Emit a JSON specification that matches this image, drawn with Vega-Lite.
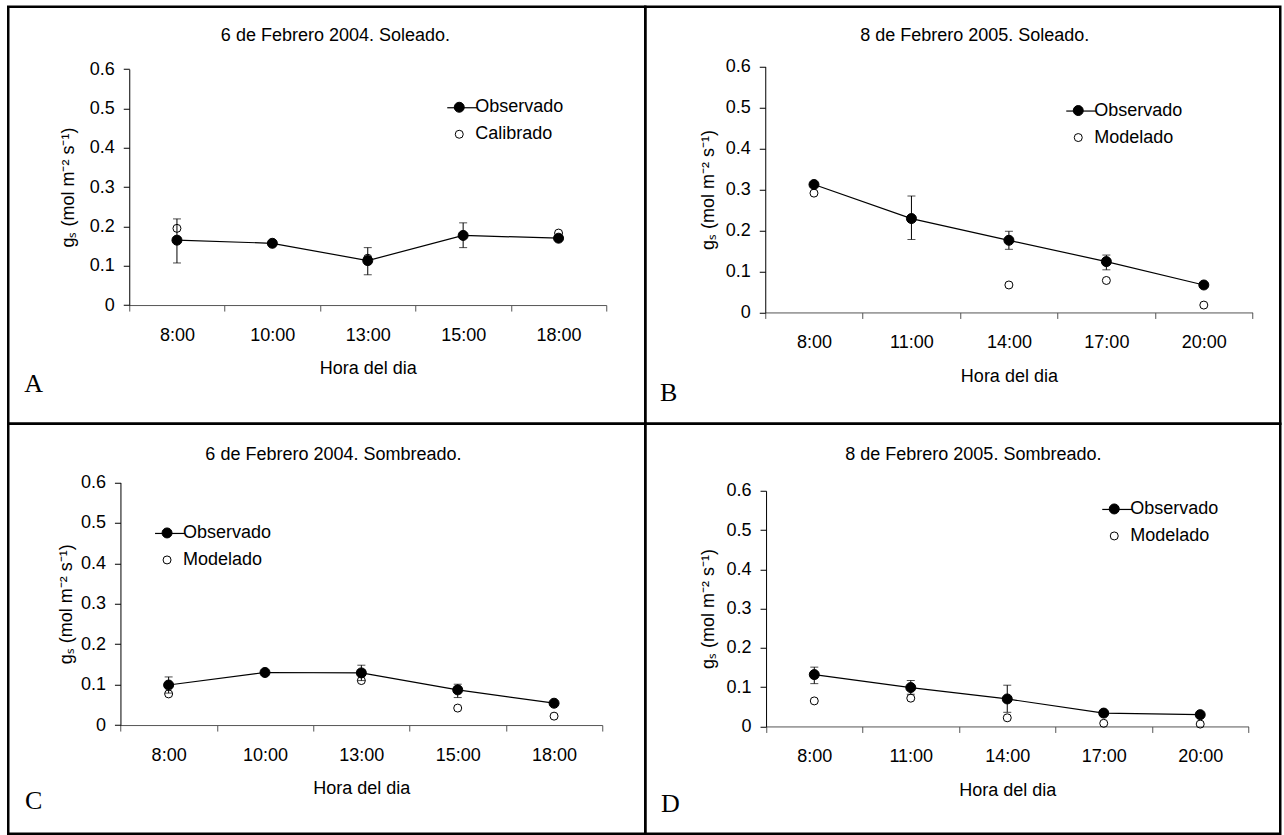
{
  "$schema": "https://vega.github.io/schema/vega-lite/v6.json",
  "background": "white",
  "padding": {"left": 6.25, "top": 4.75, "right": 0, "bottom": 0},
  "bounds": "flush",
  "spacing": 0,
  "columns": 2,
  "datasets": {
    "d": [
      {"p": "A", "hora": "8:00", "h": 8, "serie": "Calibrado", "v": 0.195},
      {"p": "A", "hora": "10:00", "h": 10, "serie": "Calibrado", "v": 0.156},
      {"p": "A", "hora": "13:00", "h": 13, "serie": "Calibrado", "v": 0.119},
      {"p": "A", "hora": "15:00", "h": 15, "serie": "Calibrado", "v": 0.178},
      {"p": "A", "hora": "18:00", "h": 18, "serie": "Calibrado", "v": 0.183},
      {"p": "A", "hora": "8:00", "h": 8, "serie": "Observado", "v": 0.165, "lo": 0.107, "hi": 0.219},
      {"p": "A", "hora": "10:00", "h": 10, "serie": "Observado", "v": 0.157},
      {"p": "A", "hora": "13:00", "h": 13, "serie": "Observado", "v": 0.113, "lo": 0.077, "hi": 0.146},
      {"p": "A", "hora": "15:00", "h": 15, "serie": "Observado", "v": 0.177, "lo": 0.146, "hi": 0.209},
      {"p": "A", "hora": "18:00", "h": 18, "serie": "Observado", "v": 0.170},
      {"p": "B", "hora": "8:00", "h": 8, "serie": "Modelado", "v": 0.291},
      {"p": "B", "hora": "14:00", "h": 14, "serie": "Modelado", "v": 0.067},
      {"p": "B", "hora": "17:00", "h": 17, "serie": "Modelado", "v": 0.078},
      {"p": "B", "hora": "20:00", "h": 20, "serie": "Modelado", "v": 0.018},
      {"p": "B", "hora": "8:00", "h": 8, "serie": "Observado", "v": 0.312},
      {"p": "B", "hora": "11:00", "h": 11, "serie": "Observado", "v": 0.229, "lo": 0.178, "hi": 0.284},
      {"p": "B", "hora": "14:00", "h": 14, "serie": "Observado", "v": 0.176, "lo": 0.154, "hi": 0.198},
      {"p": "B", "hora": "17:00", "h": 17, "serie": "Observado", "v": 0.124, "lo": 0.104, "hi": 0.140},
      {"p": "B", "hora": "20:00", "h": 20, "serie": "Observado", "v": 0.067},
      {"p": "C", "hora": "8:00", "h": 8, "serie": "Modelado", "v": 0.077},
      {"p": "C", "hora": "10:00", "h": 10, "serie": "Modelado", "v": 0.129},
      {"p": "C", "hora": "13:00", "h": 13, "serie": "Modelado", "v": 0.110},
      {"p": "C", "hora": "15:00", "h": 15, "serie": "Modelado", "v": 0.042},
      {"p": "C", "hora": "18:00", "h": 18, "serie": "Modelado", "v": 0.022},
      {"p": "C", "hora": "8:00", "h": 8, "serie": "Observado", "v": 0.099, "lo": 0.079, "hi": 0.119},
      {"p": "C", "hora": "10:00", "h": 10, "serie": "Observado", "v": 0.130},
      {"p": "C", "hora": "13:00", "h": 13, "serie": "Observado", "v": 0.129, "lo": 0.110, "hi": 0.148},
      {"p": "C", "hora": "15:00", "h": 15, "serie": "Observado", "v": 0.087, "lo": 0.068, "hi": 0.101},
      {"p": "C", "hora": "18:00", "h": 18, "serie": "Observado", "v": 0.054},
      {"p": "D", "hora": "8:00", "h": 8, "serie": "Modelado", "v": 0.065},
      {"p": "D", "hora": "11:00", "h": 11, "serie": "Modelado", "v": 0.072},
      {"p": "D", "hora": "14:00", "h": 14, "serie": "Modelado", "v": 0.022},
      {"p": "D", "hora": "17:00", "h": 17, "serie": "Modelado", "v": 0.008},
      {"p": "D", "hora": "20:00", "h": 20, "serie": "Modelado", "v": 0.006},
      {"p": "D", "hora": "8:00", "h": 8, "serie": "Observado", "v": 0.132, "lo": 0.109, "hi": 0.151},
      {"p": "D", "hora": "11:00", "h": 11, "serie": "Observado", "v": 0.099, "lo": 0.082, "hi": 0.117},
      {"p": "D", "hora": "14:00", "h": 14, "serie": "Observado", "v": 0.070, "lo": 0.036, "hi": 0.105},
      {"p": "D", "hora": "17:00", "h": 17, "serie": "Observado", "v": 0.034},
      {"p": "D", "hora": "20:00", "h": 20, "serie": "Observado", "v": 0.030}
    ]
  },
  "data": {"name": "d"},
  "concat": [
    {
      "width": 637, "height": 417,
      "transform": [{"filter": "datum.p == 'A'"}],
      "encoding": {"x": {"field": "hora", "type": "nominal", "scale": {"type": "band", "domain": ["8:00", "10:00", "13:00", "15:00", "18:00"], "range": [121, 598], "paddingInner": 0, "paddingOuter": 0}, "axis": null}},
      "layer": [
        {"transform": [{"filter": "isValid(datum.lo)"}],
         "mark": {"type": "rule", "color": "black", "strokeWidth": 1},
         "encoding": {
           "x": {"field": "hora", "type": "nominal", "scale": {"type": "band", "domain": ["8:00", "10:00", "13:00", "15:00", "18:00"], "range": [121, 598], "paddingInner": 0, "paddingOuter": 0},
                 "axis": {"orient": "top", "domain": false, "ticks": false, "labels": false, "title": "6 de Febrero 2004. Soleado.", "titleX": 326.7, "titleY": 29, "titleAlign": "center", "titleBaseline": "middle"}},
           "y": {"field": "lo", "type": "quantitative", "scale": {"domain": [0, 0.6], "range": [298.3, 62.3], "nice": false, "zero": false}, "axis": null},
           "y2": {"field": "hi"}}},
        {"transform": [{"filter": "isValid(datum.lo)"}],
         "mark": {"type": "tick", "color": "black", "size": 8, "thickness": 1},
         "encoding": {"y": {"field": "lo", "type": "quantitative", "scale": {"domain": [0, 0.6], "range": [298.3, 62.3], "nice": false, "zero": false}, "axis": null}}},
        {"transform": [{"filter": "isValid(datum.lo)"}],
         "mark": {"type": "tick", "color": "black", "size": 8, "thickness": 1},
         "encoding": {"y": {"field": "hi", "type": "quantitative", "scale": {"domain": [0, 0.6], "range": [298.3, 62.3], "nice": false, "zero": false}, "axis": null}}},
        {"transform": [{"filter": "datum.serie == 'Observado'"}],
         "mark": {"type": "line", "strokeWidth": 1.2},
         "encoding": {
           "y": {"field": "v", "type": "quantitative", "scale": {"domain": [0, 0.6], "range": [298.3, 62.3], "nice": false, "zero": false},
                 "axis": {"orient": "right", "domain": false, "ticks": false, "labels": false, "title": "A", "titleAngle": 0.001, "titleX": -612, "titleY": 377, "titleFont": "Liberation Serif", "titleFontSize": 26, "titleAlign": "center", "titleBaseline": "middle"}},
           "color": {"field": "serie", "type": "nominal", "scale": {"domain": ["Observado"], "range": ["black"]},
                     "legend": {"title": null, "orient": "none", "legendX": 438, "legendY": 85, "padding": 0, "symbolType": "stroke", "symbolSize": 900, "symbolStrokeWidth": 1.2, "labelExpr": "''"}},
           "order": {"field": "h", "type": "quantitative"}}},
        {"mark": {"type": "point", "shape": "circle", "filled": true, "strokeWidth": 1, "opacity": 1},
         "encoding": {
           "x": {"field": "hora", "type": "nominal", "scale": {"type": "band", "domain": ["8:00", "10:00", "13:00", "15:00", "18:00"], "range": [121, 598], "paddingInner": 0, "paddingOuter": 0},
                 "axis": {"orient": "bottom", "offset": -118.7, "title": "Hora del dia", "titleY": 63.7}},
           "y": {"field": "v", "type": "quantitative", "scale": {"domain": [0, 0.6], "range": [298.3, 62.3], "nice": false, "zero": false},
                 "axis": {"orient": "left", "offset": -121, "values": [0, 0.1, 0.2, 0.3, 0.4, 0.5, 0.6], "format": "~g", "title": "gₛ (mol m⁻² s⁻¹)", "titleX": -60.4, "titleY": 180.3}},
           "fill": {"field": "serie", "type": "nominal", "scale": {"domain": ["Observado", "Calibrado"], "range": ["black", "transparent"]}, "legend": {"title": null, "orient": "none", "legendX": 442, "legendY": 91.5}},
           "stroke": {"field": "serie", "type": "nominal", "scale": {"domain": ["Observado", "Calibrado"], "range": ["black", "black"]}, "legend": {"title": null, "orient": "none", "legendX": 442, "legendY": 91.5}},
           "size": {"field": "serie", "type": "nominal", "scale": {"domain": ["Observado", "Calibrado"], "range": [100, 64]}, "legend": {"title": null, "orient": "none", "legendX": 442, "legendY": 91.5}}}}
      ],
      "resolve": {"axis": {"x": "independent", "y": "independent"}}
    },
    {
      "width": 635, "height": 417,
      "transform": [{"filter": "datum.p == 'B'"}],
      "encoding": {"x": {"field": "hora", "type": "nominal", "scale": {"type": "band", "domain": ["8:00", "11:00", "14:00", "17:00", "20:00"], "range": [120, 607.3], "paddingInner": 0, "paddingOuter": 0}, "axis": null}},
      "layer": [
        {"transform": [{"filter": "isValid(datum.lo)"}],
         "mark": {"type": "rule", "color": "black", "strokeWidth": 1},
         "encoding": {
           "x": {"field": "hora", "type": "nominal", "scale": {"type": "band", "domain": ["8:00", "11:00", "14:00", "17:00", "20:00"], "range": [120, 607.3], "paddingInner": 0, "paddingOuter": 0},
                 "axis": {"orient": "top", "domain": false, "ticks": false, "labels": false, "title": "8 de Febrero 2005. Soleado.", "titleX": 329, "titleY": 29, "titleAlign": "center", "titleBaseline": "middle"}},
           "y": {"field": "lo", "type": "quantitative", "scale": {"domain": [0, 0.6], "range": [305.7, 59.7], "nice": false, "zero": false}, "axis": null},
           "y2": {"field": "hi"}}},
        {"transform": [{"filter": "isValid(datum.lo)"}],
         "mark": {"type": "tick", "color": "black", "size": 8, "thickness": 1},
         "encoding": {"y": {"field": "lo", "type": "quantitative", "scale": {"domain": [0, 0.6], "range": [305.7, 59.7], "nice": false, "zero": false}, "axis": null}}},
        {"transform": [{"filter": "isValid(datum.lo)"}],
         "mark": {"type": "tick", "color": "black", "size": 8, "thickness": 1},
         "encoding": {"y": {"field": "hi", "type": "quantitative", "scale": {"domain": [0, 0.6], "range": [305.7, 59.7], "nice": false, "zero": false}, "axis": null}}},
        {"transform": [{"filter": "datum.serie == 'Observado'"}],
         "mark": {"type": "line", "strokeWidth": 1.2},
         "encoding": {
           "y": {"field": "v", "type": "quantitative", "scale": {"domain": [0, 0.6], "range": [305.7, 59.7], "nice": false, "zero": false},
                 "axis": {"orient": "right", "domain": false, "ticks": false, "labels": false, "title": "B", "titleAngle": 0.001, "titleX": -612, "titleY": 386, "titleFont": "Liberation Serif", "titleFontSize": 26, "titleAlign": "center", "titleBaseline": "middle"}},
           "color": {"field": "serie", "type": "nominal", "scale": {"domain": ["Observado"], "range": ["black"]},
                     "legend": {"title": null, "orient": "none", "legendX": 420, "legendY": 88.3, "padding": 0, "symbolType": "stroke", "symbolSize": 900, "symbolStrokeWidth": 1.2, "labelExpr": "''"}},
           "order": {"field": "h", "type": "quantitative"}}},
        {"mark": {"type": "point", "shape": "circle", "filled": true, "strokeWidth": 1, "opacity": 1},
         "encoding": {
           "x": {"field": "hora", "type": "nominal", "scale": {"type": "band", "domain": ["8:00", "11:00", "14:00", "17:00", "20:00"], "range": [120, 607.3], "paddingInner": 0, "paddingOuter": 0},
                 "axis": {"orient": "bottom", "offset": -111.3, "title": "Hora del dia", "titleY": 64.3}},
           "y": {"field": "v", "type": "quantitative", "scale": {"domain": [0, 0.6], "range": [305.7, 59.7], "nice": false, "zero": false},
                 "axis": {"orient": "left", "offset": -120, "values": [0, 0.1, 0.2, 0.3, 0.4, 0.5, 0.6], "format": "~g", "title": "gₛ (mol m⁻² s⁻¹)", "titleX": -56.5, "titleY": 182.7}},
           "fill": {"field": "serie", "type": "nominal", "scale": {"domain": ["Observado", "Modelado"], "range": ["black", "transparent"]}, "legend": {"title": null, "orient": "none", "legendX": 424, "legendY": 94.8}},
           "stroke": {"field": "serie", "type": "nominal", "scale": {"domain": ["Observado", "Modelado"], "range": ["black", "black"]}, "legend": {"title": null, "orient": "none", "legendX": 424, "legendY": 94.8}},
           "size": {"field": "serie", "type": "nominal", "scale": {"domain": ["Observado", "Modelado"], "range": [100, 64]}, "legend": {"title": null, "orient": "none", "legendX": 424, "legendY": 94.8}}}}
      ],
      "resolve": {"axis": {"x": "independent", "y": "independent"}}
    },
    {
      "width": 637, "height": 410,
      "transform": [{"filter": "datum.p == 'C'"}],
      "encoding": {"x": {"field": "hora", "type": "nominal", "scale": {"type": "band", "domain": ["8:00", "10:00", "13:00", "15:00", "18:00"], "range": [112.2, 594], "paddingInner": 0, "paddingOuter": 0}, "axis": null}},
      "layer": [
        {"transform": [{"filter": "isValid(datum.lo)"}],
         "mark": {"type": "rule", "color": "black", "strokeWidth": 1},
         "encoding": {
           "x": {"field": "hora", "type": "nominal", "scale": {"type": "band", "domain": ["8:00", "10:00", "13:00", "15:00", "18:00"], "range": [112.2, 594], "paddingInner": 0, "paddingOuter": 0},
                 "axis": {"orient": "top", "domain": false, "ticks": false, "labels": false, "title": "6 de Febrero 2004. Sombreado.", "titleX": 324.7, "titleY": 30.3, "titleAlign": "center", "titleBaseline": "middle"}},
           "y": {"field": "lo", "type": "quantitative", "scale": {"domain": [0, 0.6], "range": [301.3, 58.7], "nice": false, "zero": false}, "axis": null},
           "y2": {"field": "hi"}}},
        {"transform": [{"filter": "isValid(datum.lo)"}],
         "mark": {"type": "tick", "color": "black", "size": 8, "thickness": 1},
         "encoding": {"y": {"field": "lo", "type": "quantitative", "scale": {"domain": [0, 0.6], "range": [301.3, 58.7], "nice": false, "zero": false}, "axis": null}}},
        {"transform": [{"filter": "isValid(datum.lo)"}],
         "mark": {"type": "tick", "color": "black", "size": 8, "thickness": 1},
         "encoding": {"y": {"field": "hi", "type": "quantitative", "scale": {"domain": [0, 0.6], "range": [301.3, 58.7], "nice": false, "zero": false}, "axis": null}}},
        {"transform": [{"filter": "datum.serie == 'Observado'"}],
         "mark": {"type": "line", "strokeWidth": 1.2},
         "encoding": {
           "y": {"field": "v", "type": "quantitative", "scale": {"domain": [0, 0.6], "range": [301.3, 58.7], "nice": false, "zero": false},
                 "axis": {"orient": "right", "domain": false, "ticks": false, "labels": false, "title": "C", "titleAngle": 0.001, "titleX": -612, "titleY": 377, "titleFont": "Liberation Serif", "titleFontSize": 26, "titleAlign": "center", "titleBaseline": "middle"}},
           "color": {"field": "serie", "type": "nominal", "scale": {"domain": ["Observado"], "range": ["black"]},
                     "legend": {"title": null, "orient": "none", "legendX": 145.8, "legendY": 93.7, "padding": 0, "symbolType": "stroke", "symbolSize": 900, "symbolStrokeWidth": 1.2, "labelExpr": "''"}},
           "order": {"field": "h", "type": "quantitative"}}},
        {"mark": {"type": "point", "shape": "circle", "filled": true, "strokeWidth": 1, "opacity": 1},
         "encoding": {
           "x": {"field": "hora", "type": "nominal", "scale": {"type": "band", "domain": ["8:00", "10:00", "13:00", "15:00", "18:00"], "range": [112.2, 594], "paddingInner": 0, "paddingOuter": 0},
                 "axis": {"orient": "bottom", "offset": -108.7, "title": "Hora del dia", "titleY": 63.4}},
           "y": {"field": "v", "type": "quantitative", "scale": {"domain": [0, 0.6], "range": [301.3, 58.7], "nice": false, "zero": false},
                 "axis": {"orient": "left", "offset": -112.2, "values": [0, 0.1, 0.2, 0.3, 0.4, 0.5, 0.6], "format": "~g", "title": "gₛ (mol m⁻² s⁻¹)", "titleX": -53.7, "titleY": 180}},
           "fill": {"field": "serie", "type": "nominal", "scale": {"domain": ["Observado", "Modelado"], "range": ["black", "transparent"]}, "legend": {"title": null, "orient": "none", "legendX": 149.8, "legendY": 100.2}},
           "stroke": {"field": "serie", "type": "nominal", "scale": {"domain": ["Observado", "Modelado"], "range": ["black", "black"]}, "legend": {"title": null, "orient": "none", "legendX": 149.8, "legendY": 100.2}},
           "size": {"field": "serie", "type": "nominal", "scale": {"domain": ["Observado", "Modelado"], "range": [100, 64]}, "legend": {"title": null, "orient": "none", "legendX": 149.8, "legendY": 100.2}}}}
      ],
      "resolve": {"axis": {"x": "independent", "y": "independent"}}
    },
    {
      "width": 635, "height": 410,
      "transform": [{"filter": "datum.p == 'D'"}],
      "encoding": {"x": {"field": "hora", "type": "nominal", "scale": {"type": "band", "domain": ["8:00", "11:00", "14:00", "17:00", "20:00"], "range": [120.8, 603.2], "paddingInner": 0, "paddingOuter": 0}, "axis": null}},
      "layer": [
        {"transform": [{"filter": "isValid(datum.lo)"}],
         "mark": {"type": "rule", "color": "black", "strokeWidth": 1},
         "encoding": {
           "x": {"field": "hora", "type": "nominal", "scale": {"type": "band", "domain": ["8:00", "11:00", "14:00", "17:00", "20:00"], "range": [120.8, 603.2], "paddingInner": 0, "paddingOuter": 0},
                 "axis": {"orient": "top", "domain": false, "ticks": false, "labels": false, "title": "8 de Febrero 2005. Sombreado.", "titleX": 327.6, "titleY": 30.3, "titleAlign": "center", "titleBaseline": "middle"}},
           "y": {"field": "lo", "type": "quantitative", "scale": {"domain": [0, 0.6], "range": [302.7, 67], "nice": false, "zero": false}, "axis": null},
           "y2": {"field": "hi"}}},
        {"transform": [{"filter": "isValid(datum.lo)"}],
         "mark": {"type": "tick", "color": "black", "size": 8, "thickness": 1},
         "encoding": {"y": {"field": "lo", "type": "quantitative", "scale": {"domain": [0, 0.6], "range": [302.7, 67], "nice": false, "zero": false}, "axis": null}}},
        {"transform": [{"filter": "isValid(datum.lo)"}],
         "mark": {"type": "tick", "color": "black", "size": 8, "thickness": 1},
         "encoding": {"y": {"field": "hi", "type": "quantitative", "scale": {"domain": [0, 0.6], "range": [302.7, 67], "nice": false, "zero": false}, "axis": null}}},
        {"transform": [{"filter": "datum.serie == 'Observado'"}],
         "mark": {"type": "line", "strokeWidth": 1.2},
         "encoding": {
           "y": {"field": "v", "type": "quantitative", "scale": {"domain": [0, 0.6], "range": [302.7, 67], "nice": false, "zero": false},
                 "axis": {"orient": "right", "domain": false, "ticks": false, "labels": false, "title": "D", "titleAngle": 0.001, "titleX": -610.4, "titleY": 380, "titleFont": "Liberation Serif", "titleFontSize": 26, "titleAlign": "center", "titleBaseline": "middle"}},
           "color": {"field": "serie", "type": "nominal", "scale": {"domain": ["Observado"], "range": ["black"]},
                     "legend": {"title": null, "orient": "none", "legendX": 456, "legendY": 69.7, "padding": 0, "symbolType": "stroke", "symbolSize": 900, "symbolStrokeWidth": 1.2, "labelExpr": "''"}},
           "order": {"field": "h", "type": "quantitative"}}},
        {"mark": {"type": "point", "shape": "circle", "filled": true, "strokeWidth": 1, "opacity": 1},
         "encoding": {
           "x": {"field": "hora", "type": "nominal", "scale": {"type": "band", "domain": ["8:00", "11:00", "14:00", "17:00", "20:00"], "range": [120.8, 603.2], "paddingInner": 0, "paddingOuter": 0},
                 "axis": {"orient": "bottom", "offset": -107.3, "title": "Hora del dia", "titleY": 64.3}},
           "y": {"field": "v", "type": "quantitative", "scale": {"domain": [0, 0.6], "range": [302.7, 67], "nice": false, "zero": false},
                 "axis": {"orient": "left", "offset": -120.8, "values": [0, 0.1, 0.2, 0.3, 0.4, 0.5, 0.6], "format": "~g", "title": "gₛ (mol m⁻² s⁻¹)", "titleX": -57.3, "titleY": 184.8}},
           "fill": {"field": "serie", "type": "nominal", "scale": {"domain": ["Observado", "Modelado"], "range": ["black", "transparent"]}, "legend": {"title": null, "orient": "none", "legendX": 460, "legendY": 76.2}},
           "stroke": {"field": "serie", "type": "nominal", "scale": {"domain": ["Observado", "Modelado"], "range": ["black", "black"]}, "legend": {"title": null, "orient": "none", "legendX": 460, "legendY": 76.2}},
           "size": {"field": "serie", "type": "nominal", "scale": {"domain": ["Observado", "Modelado"], "range": [100, 64]}, "legend": {"title": null, "orient": "none", "legendX": 460, "legendY": 76.2}}}}
      ],
      "resolve": {"axis": {"x": "independent", "y": "independent"}}
    }
  ],
  "resolve": {
    "scale": {"x": "independent", "y": "independent", "fill": "independent", "size": "independent", "stroke": "independent", "color": "independent"},
    "legend": {"fill": "independent", "size": "independent", "stroke": "independent", "color": "independent"}
  },
  "config": {
    "font": "Liberation Sans",
    "view": {"stroke": "black", "strokeWidth": 2.5},
    "axis": {"labelFont": "Liberation Sans", "titleFont": "Liberation Sans", "labelFontSize": 18, "titleFontSize": 18, "titleFontWeight": "normal", "labelColor": "black", "titleColor": "black", "grid": false, "tickSize": 6, "domainWidth": 1, "tickWidth": 1},
    "axisX": {"domainColor": "#555", "tickColor": "#555", "labelAngle": 0, "labelPadding": 24, "labelBaseline": "middle", "tickBand": "extent", "titleBaseline": "middle", "titleAlign": "center"},
    "axisY": {"domainColor": "black", "tickColor": "black", "labelPadding": 9, "titleBaseline": "middle", "titleAlign": "center"},
    "legend": {"padding": 0, "labelFont": "Liberation Sans", "labelFontSize": 18, "labelColor": "black", "labelOffset": 7, "rowPadding": 9, "symbolStrokeWidth": 1, "symbolOpacity": 1}
  }
}
